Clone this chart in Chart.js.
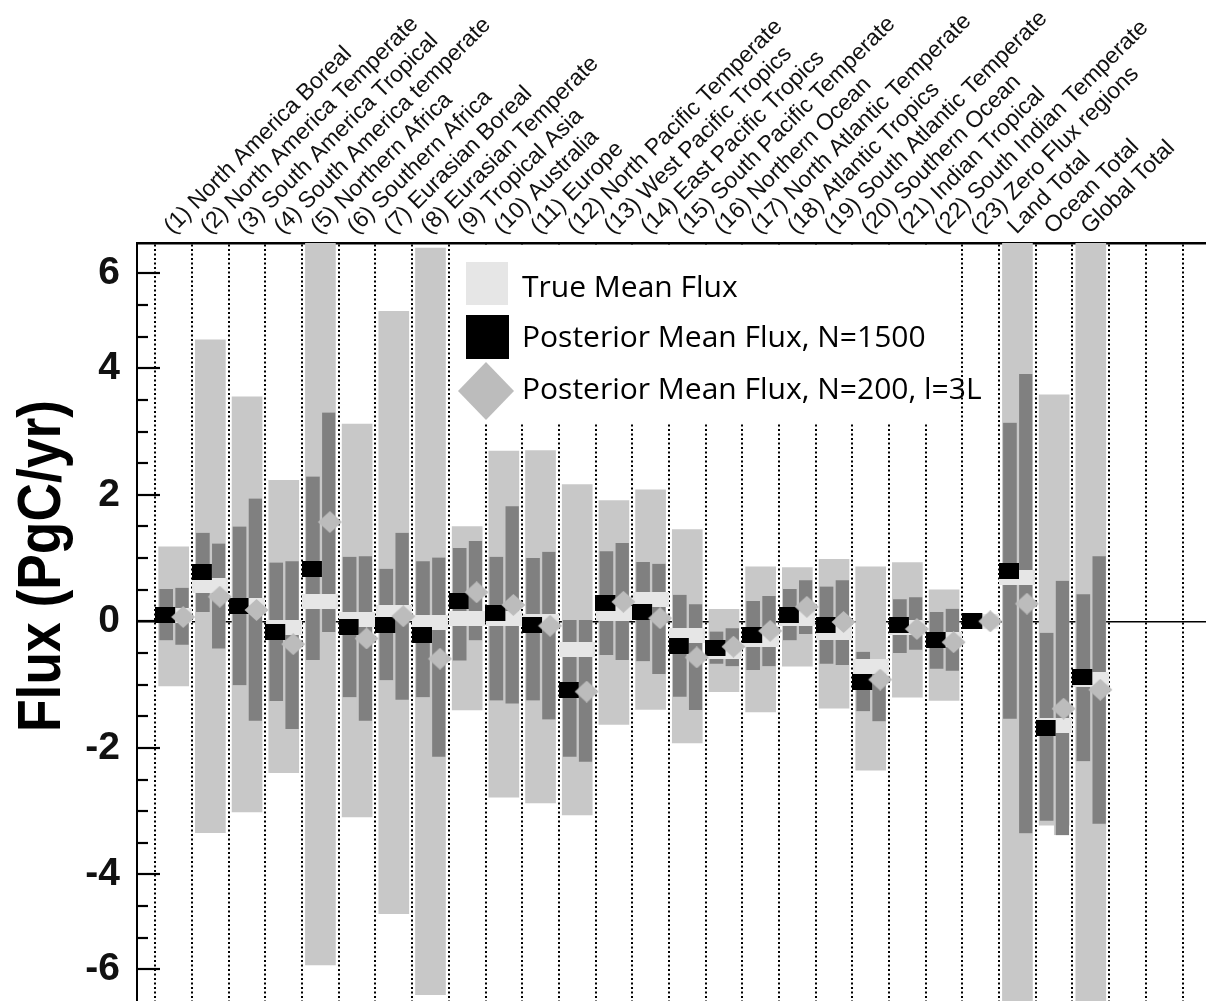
<!DOCTYPE html>
<html>
<head>
<meta charset="utf-8">
<title>Flux by region</title>
<script src="https://cdn.jsdelivr.net/npm/chart.js@4.4.1/dist/chart.umd.min.js"></script>
<style>
  html, body { margin: 0; padding: 0; background: #fff; }
  #wrap { width: 1206px; height: 1001px; position: relative; }
</style>
</head>
<body>
<div id="wrap"><canvas id="fluxChart"></canvas></div>
<script>
const regions = [
  '(1) North America Boreal', '(2) North America Temperate', '(3) South America Tropical',
  '(4) South America temperate', '(5) Northern Africa', '(6) Southern Africa',
  '(7) Eurasian Boreal', '(8) Eurasian Temperate', '(9) Tropical Asia', '(10) Australia',
  '(11) Europe', '(12) North Pacific Temperate', '(13) West Pacific Tropics',
  '(14) East Pacific Tropics', '(15) South Pacific Temperate', '(16) Northern Ocean',
  '(17) North Atlantic Temperate', '(18) Atlantic Tropics', '(19) South Atlantic Temperate',
  '(20) Southern Ocean', '(21) Indian Tropical', '(22) South Indian Temperate',
  '(23) Zero Flux regions', 'Land Total', 'Ocean Total', 'Global Total'
];

// light grey range
const priorLow  = [-1.02, -3.34, -3.01, -2.39, -5.43, -3.09, -4.62, -5.90, -1.40, -2.78, -2.87, -3.06, -1.63,
                   -1.39, -1.92, -1.11, -1.43, -0.71, -1.37, -2.35, -1.20, -1.25, null, -6.5, -3.22, -6.5];
const priorHigh = [1.18, 4.45, 3.55, 2.23, 6.5, 3.12, 4.90, 5.90, 1.50, 2.69, 2.70, 2.16, 1.91,
                   2.08, 1.45, 0.19, 0.86, 0.85, 0.98, 0.86, 0.93, 0.50, null, 6.5, 3.58, 6.5];

// dark grey ranges, N=1500 (left) and N=200 (right)
const rangeLowA  = [-0.30, 0.15, -1.01, -1.26, -0.61, -1.20, -0.93, -1.20, -0.62, -1.25, -1.25, -2.14, -0.53,
                    -0.63, -1.19, -0.67, -0.77, -0.30, -0.67, -1.42, -0.50, -0.75, null, -1.54, -3.15, -2.21];
const rangeHighA = [0.51, 1.40, 1.50, 0.93, 2.29, 1.02, 0.83, 0.95, 1.16, 1.02, 1.00, 0.02, 1.11,
                    0.94, 0.42, -0.16, 0.32, 0.51, 0.55, -0.48, 0.35, 0.15, null, 3.14, -0.18, 0.43];
const rangeLowB  = [-0.37, -0.43, -1.57, -1.70, -0.17, -1.57, -1.24, -2.14, -0.30, -1.30, -1.55, -2.22, -0.61,
                    -0.83, -1.40, -0.71, -0.71, -0.20, -0.69, -1.58, -0.45, -0.78, null, -3.35, -3.38, -3.20];
const rangeHighB = [0.53, 1.23, 1.94, 0.95, 3.30, 1.03, 1.40, 1.01, 1.27, 1.82, 1.10, 0.02, 1.24,
                    0.91, 0.27, -0.11, 0.40, 0.65, 0.65, -0.60, 0.38, 0.20, null, 3.91, 0.64, 1.03];

const trueMean = [0.10, 0.57, 0.25, -0.09, 0.31, 0.03, 0.14, -0.02, 0.05, 0.05, 0.00, -0.45, 0.13,
                  0.34, -0.23, -0.47, -0.28, 0.05, -0.18, -0.72, -0.10, -0.28, 0.00, 0.70, -1.64, -0.92];
const post1500 = [0.10, 0.78, 0.25, -0.17, 0.83, -0.09, -0.05, -0.21, 0.32, 0.14, -0.05, -1.08, 0.29,
                  0.15, -0.39, -0.42, -0.22, 0.10, -0.06, -0.96, -0.05, -0.30, 0.00, 0.79, -1.68, -0.88];
const post200  = [0.07, 0.39, 0.18, -0.36, 1.57, -0.27, 0.08, -0.59, 0.46, 0.26, -0.07, -1.11, 0.31,
                  0.05, -0.57, -0.40, -0.15, 0.23, -0.01, -0.92, -0.12, -0.33, 0.00, 0.28, -1.38, -1.08];

const yTickValues = [-5.5, -5, -4.5, -4, -3.5, -3, -2.5, -2, -1.5, -1, -0.5, 0,
                     0.5, 1, 1.5, 2, 2.5, 3, 3.5, 4, 4.5, 5, 5.5];
const yTickText   = ['-6', '', '', '-4', '', '', '', '-2', '', '', '', '0',
                     '', '', '', '2', '', '', '', '4', '', '', '6'];
const legendText = ['True Mean Flux', 'Posterior Mean Flux, N=1500', 'Posterior Mean Flux, N=200, l=3L'];

const slotTicks = Array.from({ length: 30 }, (_, i) => i);
const FONT = "'Liberation Sans', Arial, sans-serif";

function rangeData(lo, hi) {
  return lo.map((v, i) => v === null ? null : { x: i + 1, y: [v, hi[i]] }).filter(Boolean);
}
function pointData(vals) {
  return vals.map((v, i) => ({ x: i + 1, y: v }));
}
function stamp(w, h, paint) {
  const c = document.createElement('canvas');
  c.width = w;
  c.height = h;
  paint(c.getContext('2d'));
  return c;
}

const bandMark = stamp(36, 15, g => { g.fillStyle = '#e6e6e6'; g.fillRect(0, 0, 36, 15); });
const squareMark = stamp(37, 16, g => { g.fillStyle = '#000'; g.fillRect(0, 0, 20, 16); });
const diamondMark = stamp(44, 22, g => {
  g.fillStyle = '#bcbcbc';
  g.beginPath();
  g.moveTo(31.5, 0); g.lineTo(43.5, 11); g.lineTo(31.5, 22); g.lineTo(19.5, 11);
  g.closePath();
  g.fill();
});

// ticks on the left axis point into the plot
const innerTicks = {
  id: 'innerTicks',
  afterDraw(chart) {
    const { ctx, chartArea: a, scales: { y } } = chart;
    ctx.save();
    ctx.strokeStyle = '#000';
    ctx.lineWidth = 2.2;
    yTickValues.forEach((v, i) => {
      const py = Math.round(y.getPixelForValue(v));
      const len = yTickText[i] ? 23 : 11;
      ctx.beginPath();
      ctx.moveTo(a.left, py);
      ctx.lineTo(a.left + len, py);
      ctx.stroke();
    });
    ctx.restore();
  }
};

const yTitle = {
  id: 'yTitle',
  afterDraw(chart) {
    const { ctx } = chart;
    const text = 'Flux (PgC/yr)';
    ctx.save();
    ctx.font = 'bold 62px ' + FONT;
    const w = ctx.measureText(text).width;
    ctx.translate(60, 566);
    ctx.rotate(-Math.PI / 2);
    ctx.scale(332 / w, 1);
    ctx.fillStyle = '#000';
    ctx.textAlign = 'center';
    ctx.textBaseline = 'alphabetic';
    ctx.fillText(text, 0, 0);
    ctx.restore();
  }
};

const insetLegend = {
  id: 'insetLegend',
  afterDatasetsDraw(chart) {
    const { ctx, chartArea: a } = chart;
    const x0 = a.left + 315, y0 = a.top + 2;
    ctx.save();
    ctx.fillStyle = '#fff';
    ctx.fillRect(x0, y0, 506, 177);
    ctx.fillStyle = '#e6e6e6';
    ctx.fillRect(x0 + 14, y0 + 17, 42, 43);
    ctx.fillStyle = '#000';
    ctx.fillRect(x0 + 14, y0 + 70, 43, 44);
    ctx.fillStyle = '#bcbcbc';
    ctx.beginPath();
    const cx = x0 + 34, cy = y0 + 146;
    ctx.moveTo(cx, cy - 29); ctx.lineTo(cx + 28, cy); ctx.lineTo(cx, cy + 29); ctx.lineTo(cx - 28, cy);
    ctx.closePath();
    ctx.fill();
    ctx.fillStyle = '#000';
    ctx.font = "30px 'Open Sans', sans-serif";
    ctx.textBaseline = 'alphabetic';
    ctx.fillText(legendText[0], x0 + 70, y0 + 52);
    ctx.fillText(legendText[1], x0 + 70, y0 + 102);
    ctx.fillText(legendText[2], x0 + 70, y0 + 154);
    ctx.restore();
  }
};

new Chart(document.getElementById('fluxChart'), {
  type: 'bar',
  data: {
    datasets: [
      {
        label: 'Prior range',
        data: rangeData(priorLow, priorHigh),
        backgroundColor: '#c8c8c8',
        grouped: false,
        barThickness: 30,
        order: 6,
        clip: 0
      },
      {
        label: 'Posterior range, N=1500',
        data: rangeData(rangeLowA, rangeHighA),
        backgroundColor: '#808080',
        borderColor: '#c8c8c8',
        borderWidth: { left: 1, right: 1, top: 0, bottom: 0 },
        borderSkipped: false,
        barThickness: 15,
        order: 5,
        clip: 0
      },
      {
        label: 'Posterior range, N=200',
        data: rangeData(rangeLowB, rangeHighB),
        backgroundColor: '#808080',
        borderColor: '#c8c8c8',
        borderWidth: { left: 2, right: 0, top: 0, bottom: 0 },
        borderSkipped: false,
        barThickness: 15,
        order: 5,
        clip: 0
      },
      {
        type: 'line',
        label: legendText[0],
        data: pointData(trueMean),
        showLine: false,
        pointStyle: bandMark,
        pointRadius: 5,
        order: 4,
        clip: 0
      },
      {
        type: 'line',
        label: legendText[1],
        data: pointData(post1500),
        showLine: false,
        pointStyle: squareMark,
        pointRadius: 5,
        order: 3,
        clip: 0
      },
      {
        type: 'line',
        label: legendText[2],
        data: pointData(post200),
        showLine: false,
        pointStyle: diamondMark,
        pointRadius: 5,
        order: 2,
        clip: 0
      }
    ]
  },
  options: {
    responsive: true,
    maintainAspectRatio: false,
    animation: false,
    events: [],
    layout: { padding: 0, autoPadding: false },
    plugins: {
      legend: { display: false },
      tooltip: { enabled: false }
    },
    scales: {
      x: {
        type: 'linear',
        position: 'top',
        min: 0,
        max: 29.14,
        offset: false,
        afterBuildTicks: s => { s.ticks = slotTicks.map(v => ({ value: v })); },
        afterFit: s => { s.height = 243; },
        grid: { offset: true, color: '#000', lineWidth: 2, drawTicks: false },
        border: { display: true, color: '#000', width: 2.5, dash: [2, 2.5] },
        ticks: {
          autoSkip: false,
          minRotation: 45,
          maxRotation: 45,
          padding: 3,
          labelOffset: 14,
          color: '#111',
          font: { family: FONT, size: 23 },
          callback: v => regions[v - 1] || ''
        }
      },
      y: {
        min: -6.0,
        max: 5.98,
        afterBuildTicks: s => { s.ticks = yTickValues.map(v => ({ value: v })); },
        afterFit: s => { s.width = 137; s.paddingTop = 0; s.paddingBottom = 0; },
        grid: {
          color: c => (c.tick && c.tick.value === 0) ? '#000' : 'rgba(0,0,0,0)',
          lineWidth: 1.5,
          drawTicks: false
        },
        border: { display: true, color: '#000', width: 2 },
        ticks: {
          autoSkip: false,
          padding: 17,
          color: '#111',
          font: { family: FONT, size: 39, weight: 'bold' },
          callback: v => {
            const i = yTickValues.indexOf(v);
            return i < 0 ? '' : yTickText[i];
          }
        }
      }
    }
  },
  plugins: [innerTicks, yTitle, insetLegend]
});
</script>
</body>
</html>
